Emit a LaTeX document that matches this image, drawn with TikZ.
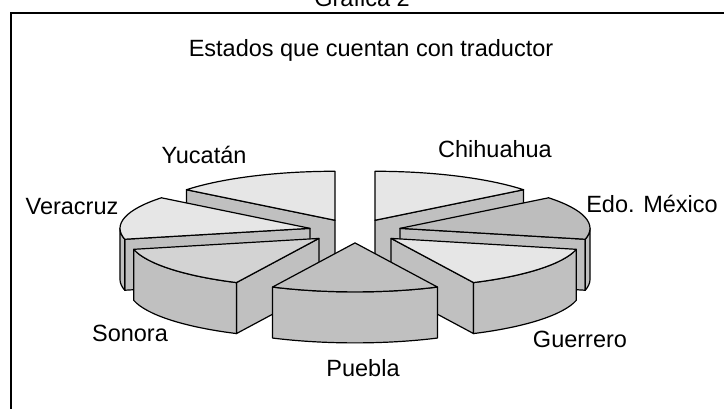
\documentclass[tikz,border=0pt]{standalone}
\usepackage{fontspec}
\setmainfont{Liberation Sans}
\usetikzlibrary{calc}
\definecolor{toplight}{HTML}{E6E6E6}
\definecolor{topmid}{HTML}{D3D3D3}
\definecolor{topdark}{HTML}{BDBDBD}
\definecolor{sidegray}{HTML}{C0C0C0}
\tikzset{
  edge/.style={draw=black, line width=1.2pt, line join=round},
  sidestyle/.style={edge, fill=sidegray},
  lbl/.style={font=\fontsize{23.5}{28}\selectfont, inner sep=0pt, anchor=base},
}
\newcommand\apexpt[2]{\coordinate (#1) at ({355+46.17*cos(#2)},{178+11.907*sin(#2)});}
\newcommand\sideface[2]{\draw[sidestyle] (#1) -- ++(#2:190 and 49) -- ++(0,-51) -- ([yshift=-51pt]#1) -- cycle;}
\newcommand\curveface[3]{\draw[sidestyle] ($(#1)+(#2:190 and 49)$) arc[start angle=#2,end angle=#3,x radius=190,y radius=49] -- ++(0,-51) arc[start angle=#3,end angle=#2,x radius=190,y radius=49] -- cycle;}
\newcommand\topface[4]{\draw[edge,fill=#4] (#1) -- ++(#2:190 and 49) arc[start angle=#2,end angle=#3,x radius=190,y radius=49] -- cycle;}
\begin{document}
\begin{tikzpicture}[x=1pt,y=1pt]
\useasboundingbox (0,0) rectangle (724,409);
\clip (0,0) rectangle (724,409);
\fill[white] (0,0) rectangle (724,409);
% frame
\draw[line width=2pt] (11,-20) rectangle (760,395.5);
\node[lbl] (grafica) at (362,402) {Gráfica 2};
\node[lbl] (title) at (371,352) {Estados que cuentan con traductor};
% apexes
\apexpt{yuc}{115.7143}
\apexpt{chi}{64.2857}
\apexpt{ver}{167.1429}
\apexpt{mex}{12.8571}
\apexpt{son}{218.5714}
\apexpt{gue}{321.4286}
\apexpt{pue}{270}
% Yucatan
\sideface{yuc}{141.4286}
\topface{yuc}{90}{141.4286}{toplight}
% Chihuahua
\sideface{chi}{38.5714}
\topface{chi}{38.5714}{90}{toplight}
% Veracruz
\sideface{ver}{192.8571}
\curveface{ver}{180}{192.8571}
\topface{ver}{141.4286}{192.8571}{toplight}
% Edo. Mexico
\sideface{mex}{-12.8571}
\curveface{mex}{-12.8571}{0}
\topface{mex}{-12.8571}{38.5714}{topdark}
% Sonora
\sideface{son}{244.2857}
\curveface{son}{192.8571}{244.2857}
\topface{son}{192.8571}{244.2857}{topmid}
% Guerrero
\sideface{gue}{295.7143}
\curveface{gue}{295.7143}{347.1429}
\topface{gue}{295.7143}{347.1429}{toplight}
% Puebla
\curveface{pue}{244.2857}{295.7143}
\topface{pue}{244.2857}{295.7143}{sidegray}
% labels
\node[lbl] (lyuc) at (204,245) {Yucatán};
\node[lbl] (lchi) at (495,251) {Chihuahua};
\node[lbl] (lmex) at (652,196) {Edo. México};
\node[lbl] (lver) at (72,194) {Veracruz};
\node[lbl] (lson) at (130,67) {Sonora};
\node[lbl] (lgue) at (580,61) {Guerrero};
\node[lbl] (lpue) at (363,32) {Puebla};
\end{tikzpicture}
\end{document}
